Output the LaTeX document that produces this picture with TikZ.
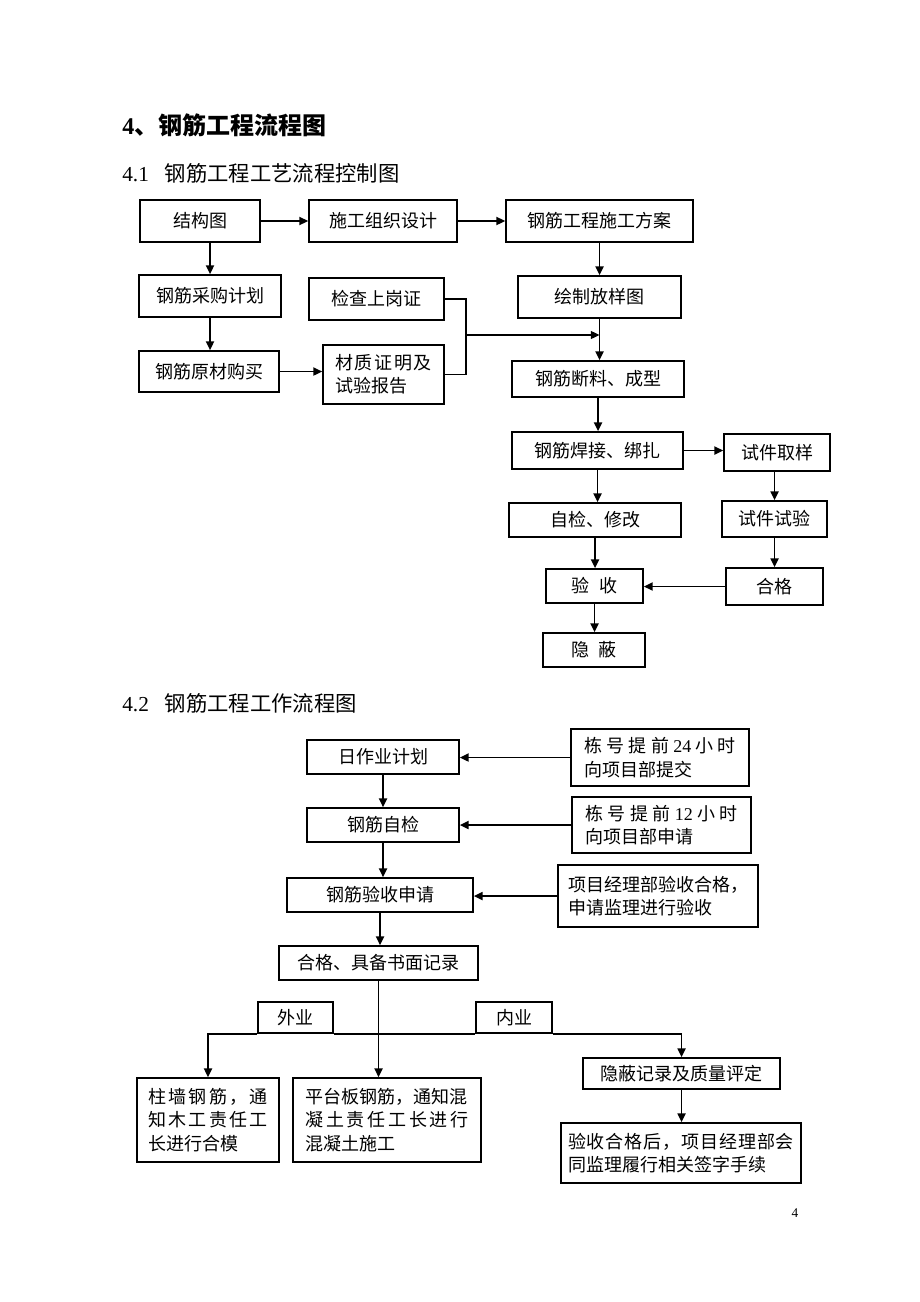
\documentclass[tikz,border=0pt]{standalone}
\usepackage{fontspec}
\setmainfont{Liberation Serif}
\newfontfamily\cjk{Noto Sans CJK SC}
\usetikzlibrary{arrows.meta}
\begin{document}
\begin{tikzpicture}[x=0.75pt,y=-0.75pt,
  box/.style={draw, line width=1.3pt, inner sep=0pt, align=left,
    font=\cjk\fontsize{13.5}{17.6}\selectfont},
  sz/.style 2 args={minimum width=#1*0.75pt, minimum height=#2*0.75pt},
  conn/.style={line width=1.3pt, -{Triangle[length=6.5pt,width=6pt]}},
  thinconn/.style={line width=0.9pt, -{Triangle[length=6.5pt,width=6pt]}},
  ln/.style={line width=1.3pt},
  brk/.style={line width=0.9pt},
  ttl/.style={inner sep=0pt, anchor=west}]
\fill[white] (0,0) rectangle (920,1302);
\useasboundingbox (0,0) rectangle (920,1302);

% headings
\node[ttl, font=\bfseries\fontsize{18}{20}\selectfont] (t0) at (122,125) {4{\cjk 、钢筋工程流程图}};
\node[ttl, font=\fontsize{16}{18}\selectfont] (t1) at (122,173) {4.1\hspace{12pt}{\cjk 钢筋工程工艺流程控制图}};
\node[ttl, font=\fontsize{16}{18}\selectfont] (t2) at (122,703) {4.2\hspace{12pt}{\cjk 钢筋工程工作流程图}};
\node[inner sep=0pt, font=\fontsize{10}{11}\selectfont] (pg) at (795,1213) {4};

% ---------- chart 4.1 ----------
\node[box, sz={120}{42}] (jgt) at (200,221) {结构图};
\node[box, sz={148}{42}] (sgzz) at (383,221) {施工组织设计};
\node[box, sz={187}{42}] (fa) at (599.5,221) {钢筋工程施工方案};
\node[box, sz={142}{42}] (cg) at (210,296) {钢筋采购计划};
\node[box, sz={135}{42}] (jc) at (376.5,299) {检查上岗证};
\node[box, sz={163}{42}] (hz) at (599.5,297) {绘制放样图};
\node[box, sz={140}{41}] (ycl) at (209,371.5) {钢筋原材购买};
\node[box, sz={121}{59}] (cz) at (383.5,374.5) {\makebox[72.75pt][s]{材\hfill 质\hfill 证\hfill 明\hfill 及}\\试验报告};
\node[box, sz={172}{36}] (dl) at (598,379) {钢筋断料、成型};
\node[box, sz={171}{37}] (hj) at (597.5,450.5) {钢筋焊接、绑扎};
\node[box, sz={106}{37}] (qy) at (777,452.5) {试件取样};
\node[box, sz={172}{34}] (zjxg) at (595,520) {自检、修改};
\node[box, sz={105}{36}] (sy) at (774.5,519) {试件试验};
\node[box, sz={97}{34}] (ysA) at (594.5,586) {验\hspace{7pt}收};
\node[box, sz={97}{37}] (hgA) at (774.5,586.5) {合格};
\node[box, sz={102}{34}] (ybA) at (594,650) {隐\hspace{7pt}蔽};
\coordinate (bx) at (466,335);

\draw[conn] (jgt.east) -- (sgzz.west);
\draw[conn] (sgzz.east) -- (fa.west);
\draw[conn] (jgt.south -| cg.north) -- (cg.north);
\draw[conn] (cg.south) -- (cg.south |- ycl.north);
\draw[conn] (ycl.east) -- (ycl.east -| cz.west);
\draw[brk] (jc.east) -- (jc.east -| bx) -- (cz.east -| bx) -- (cz.east);
\draw[thinconn] (bx) -- (bx -| hz.south);
\draw[conn] (fa.south) -- (hz.north);
\draw[conn] (hz.south) -- (hz.south |- dl.north);
\draw[conn] (dl.south) -- (dl.south |- hj.north);
\draw[conn] (hj.east) -- (hj.east -| qy.west);
\draw[conn] (hj.south) -- (hj.south |- zjxg.north);
\draw[conn] (sy.north |- qy.south) -- (sy.north);
\draw[conn] (sy.south) -- (sy.south |- hgA.north);
\draw[conn] (hgA.west) -- (hgA.west -| ysA.east);
\draw[conn] (zjxg.south) -- (zjxg.south |- ysA.north);
\draw[conn] (ysA.south) -- (ysA.south |- ybA.north);

% ---------- chart 4.2 ----------
\node[box, sz={152}{34}] (rzy) at (383,757) {日作业计划};
\node[box, sz={178}{57}] (d24) at (660,757.5) {\makebox[114pt][s]{栋\hfill 号\hfill 提\hfill 前\hfill {\rmfamily 24}\hfill 小\hfill 时}\\向项目部提交};
\node[box, sz={152}{34}] (zj) at (383,825) {钢筋自检};
\node[box, sz={179}{56}] (d12) at (661.5,825) {\makebox[114pt][s]{栋\hfill 号\hfill 提\hfill 前\hfill {\rmfamily 12}\hfill 小\hfill 时}\\向项目部申请};
\node[box, sz={186}{34}] (ysq) at (380,895) {钢筋验收申请};
\node[box, sz={200}{62}] (xm) at (658,896) {项目经理部验收合格，\\申请监理进行验收};
\node[box, sz={199}{34}] (hg2) at (378.5,963) {合格、具备书面记录};
\node[box, sz={75}{31}] (wy) at (295.5,1017.5) {外业};
\node[box, sz={76}{31}] (ny) at (514,1017.5) {内业};
\node[box, sz={142}{84}] (zq) at (208,1120) {\makebox[89.25pt][s]{柱\hfill 墙\hfill 钢\hfill 筋\hfill ，\hfill 通}\\\makebox[89.25pt][s]{知\hfill 木\hfill 工\hfill 责\hfill 任\hfill 工}\\长进行合模};
\node[box, sz={188}{84}] (ptb) at (387,1120) {平台板钢筋，通知混\\\makebox[122.25pt][s]{凝\hfill 土\hfill 责\hfill 任\hfill 工\hfill 长\hfill 进\hfill 行}\\混凝土施工};
\node[box, sz={197}{31}] (ybjl) at (681.5,1073.5) {隐蔽记录及质量评定};
\node[box, sz={240}{60}] (ysh) at (681,1153) {\makebox[169.5pt][s]{验\hfill 收\hfill 合\hfill 格\hfill 后\hfill ，\hfill 项\hfill 目\hfill 经\hfill 理\hfill 部\hfill 会}\\同监理履行相关签字手续};

\draw[conn] (d24.west) -- (d24.west -| rzy.east);
\draw[conn] (d12.west) -- (d12.west -| zj.east);
\draw[conn] (xm.west) -- (xm.west -| ysq.east);
\draw[conn] (rzy.south) -- (rzy.south |- zj.north);
\draw[conn] (zj.south) -- (zj.south |- ysq.north);
\draw[conn] (ysq.south) -- (ysq.south |- hg2.north);
\draw[conn] (hg2.south) -- (hg2.south |- ptb.north);
\draw[ln] (wy.south east) -- (ny.south west);
\draw[conn] (wy.south west) -- (wy.south west -| zq.north) -- (zq.north);
\draw[conn] (ny.south east) -- (ny.south east -| ybjl.north) -- (ybjl.north);
\draw[conn] (ybjl.south) -- (ybjl.south |- ysh.north);
\end{tikzpicture}
\end{document}
